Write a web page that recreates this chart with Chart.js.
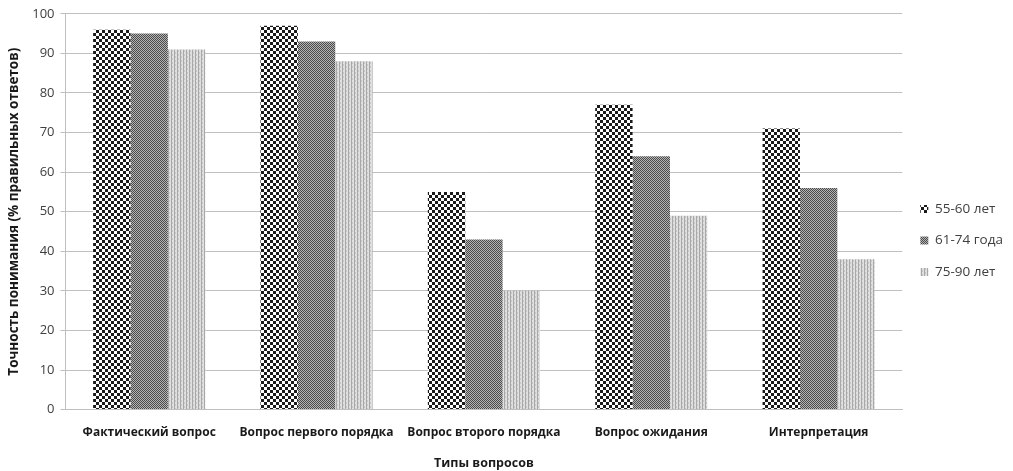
<!DOCTYPE html>
<html><head><meta charset="utf-8">
<script src="https://cdn.jsdelivr.net/npm/chart.js@4.4.1/dist/chart.umd.min.js"></script>
<style>html,body{margin:0;padding:0;background:#fff}#w{width:1013px;height:471px}</style>
</head><body><div id="w"><canvas id="c"></canvas></div>
<script>
const categories = ["Фактический вопрос","Вопрос первого порядка","Вопрос второго порядка","Вопрос ожидания","Интерпретация"];
const seriesNames = ["55-60 лет","61-74 года","75-90 лет"];
const s1 = [96,97,55,77,71];
const s2 = [95,93,43,64,56];
const s3 = [91,88,30,49,38];
const yTicks = [0,10,20,30,40,50,60,70,80,90,100];

function pat(kind){
  const c=document.createElement('canvas');
  const x=c.getContext('2d');
  if(kind===1){c.width=6;c.height=6;x.fillStyle='#fff';x.fillRect(0,0,6,6);x.fillStyle='#1a1a1a';x.fillRect(0,0,3,3);x.fillRect(3,3,3,3);}
  else if(kind===2){c.width=2;c.height=2;x.fillStyle='#b4b4b4';x.fillRect(0,0,2,2);x.fillStyle='#4a4a4a';x.fillRect(0,0,1,1);x.fillRect(1,1,1,1);}
  else {c.width=6;c.height=4;x.fillStyle='#e0e0e0';x.fillRect(0,0,6,4);x.fillStyle='#a8a8a8';x.fillRect(0,0,1,4);x.fillRect(3,0,1,4);x.fillStyle='#c8c8c8';x.fillRect(1,0,1,2);x.fillRect(4,2,1,2);}
  return x.createPattern(c,'repeat');
}
const F="'Open Sans', 'Noto Sans', sans-serif";
new Chart(document.getElementById('c'),{
  type:'bar',
  data:{labels:categories,datasets:[
    {label:seriesNames[0],data:s1,backgroundColor:pat(1),borderWidth:0},
    {label:seriesNames[1],data:s2,backgroundColor:pat(2),borderWidth:0},
    {label:seriesNames[2],data:s3,backgroundColor:pat(3),borderWidth:0}
  ]},
  options:{
    responsive:true,maintainAspectRatio:false,animation:false,
    layout:{padding:{left:6,right:0,top:10,bottom:0}},
    datasets:{bar:{categoryPercentage:0.67,barPercentage:1.0}},
    plugins:{
      legend:{position:'right',align:'center',labels:{boxWidth:8,boxHeight:8,padding:18,color:'#404040',font:{family:F,size:13.5}}},
      tooltip:{enabled:false}
    },
    scales:{
      x:{grid:{display:false,drawTicks:false},border:{color:'#bfbfbf'},
         ticks:{color:'#1a1a1a',padding:16,font:{family:F,size:12,weight:'bold'},maxRotation:0,autoSkip:false},
         title:{display:true,text:'Типы вопросов',color:'#1a1a1a',font:{family:F,size:12.5,weight:'bold'},padding:{top:0,bottom:0}}},
      y:{min:0,max:100,afterBuildTicks:a=>{a.ticks=yTicks.map(v=>({value:v}));},
         grid:{color:'#c0c0c0',tickLength:5},border:{display:true,color:'#c0c0c0'},
         ticks:{color:'#404040',padding:6,font:{family:F,size:13}},
         title:{display:true,text:'Точность понимания (% правильных ответов)',color:'#1a1a1a',font:{family:F,size:13.5,weight:'bold'},padding:{top:0,bottom:4}}}
    }
  }
});
</script></body></html>
